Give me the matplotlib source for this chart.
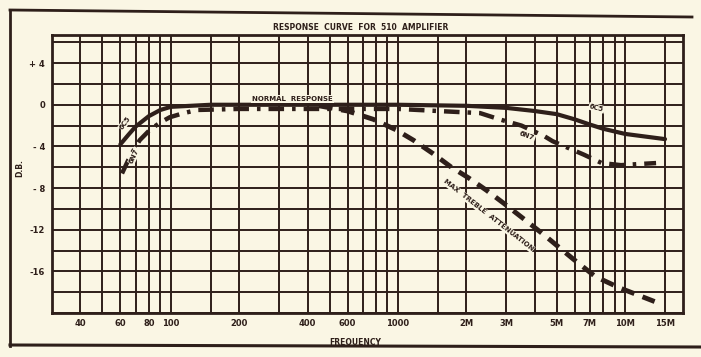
"""
Response curve for 510 amplifier (scanned vintage chart recreation).
"""
import numpy as np
import matplotlib.pyplot as plt
from matplotlib.lines import Line2D
from matplotlib.ticker import NullFormatter

PAPER = "#faf6e4"
INK = "#2e1f1a"

# curve data (frequency in Hz, level in dB)
c6c5_freq = [60, 65, 70, 80, 90, 100, 150, 200, 500, 1000, 2000, 3000, 4000, 5000, 6000, 7000, 8000, 10000, 15000]
c6c5_db = [-3.8, -2.9, -2.1, -1.1, -0.5, -0.2, 0.0, 0.0, 0.0, 0.0, -0.1, -0.3, -0.6, -0.9, -1.4, -1.9, -2.3, -2.8, -3.3]

c6n7_freq = [61, 66, 73, 81, 90, 99, 114, 131, 200, 500, 1000, 1500, 2300, 2800, 3500, 4400, 4800, 6600, 7900, 9600, 11400, 13700]
c6n7_db = [-6.6, -5.0, -3.4, -2.4, -1.7, -1.2, -0.8, -0.5, -0.4, -0.4, -0.4, -0.6, -0.8, -1.4, -2.0, -3.0, -3.5, -4.8, -5.6, -5.8, -5.7, -5.6]

treble_freq = [450, 600, 780, 980, 1170, 1430, 1720, 2040, 2450, 2940, 3700, 4400, 5900, 7400, 9500, 13500]
treble_db = [-0.1, -0.6, -1.4, -2.4, -3.4, -4.7, -6.0, -7.0, -8.2, -9.5, -11.2, -12.5, -14.8, -16.5, -17.6, -18.9]

x_ticks = [40, 60, 80, 100, 200, 400, 600, 1000, 2000, 3000, 5000, 7000, 10000, 15000]
x_labels = ["40", "60", "80", "100", "200", "400", "600", "1000", "2M", "3M", "5M", "7M", "10M", "15M"]
x_grid = [40, 50, 60, 70, 80, 90, 100, 150, 200, 300, 400, 500, 600, 700, 800, 900,
          1000, 1500, 2000, 3000, 4000, 5000, 6000, 7000, 8000, 9000, 10000, 15000]
y_ticks = [4, 0, -4, -8, -12, -16]
y_labels = ["+ 4", "0", "- 4", "- 8", "-12", "-16"]
y_grid = list(range(-20, 7, 2))

W, H = 701, 357
fig = plt.figure(figsize=(W / 100, H / 100), dpi=100, facecolor=PAPER)
ax = fig.add_axes([52 / W, 1 - 313 / H, (683 - 52) / W, (313 - 35) / H])
ax.set_facecolor(PAPER)
ax.set_xscale("log")
ax.set_xlim(30, 18000)
ax.set_ylim(-20, 6.7)

# grid lines at the printed positions, labels separately
for f in x_grid:
    ax.axvline(f, color=INK, linewidth=1.4, zorder=0)
for d in y_grid:
    ax.axhline(d, color=INK, linewidth=1.4, zorder=0)

ax.set_xticks(x_ticks)
ax.set_xticklabels(x_labels)
ax.xaxis.set_minor_formatter(NullFormatter())
ax.set_xticks([], minor=True)
ax.set_yticks(y_ticks)
ax.set_yticklabels(y_labels)
ax.tick_params(which="both", length=0)
ax.tick_params(axis="x", pad=4)
ax.tick_params(axis="y", pad=5)
for lab in ax.get_xticklabels() + ax.get_yticklabels():
    lab.set_fontsize(6)
    lab.set_fontweight("bold")
    lab.set_color(INK)
for s in ax.spines.values():
    s.set_color(INK)
    s.set_linewidth(2)

# curves
ax.plot(c6c5_freq, c6c5_db, color=INK, linewidth=3, solid_capstyle="round", zorder=3)
ax.plot(c6n7_freq, c6n7_db, color=INK, linewidth=3.2, dashes=(3.5, 1.8, 0.8, 1.8), zorder=3)
ax.plot(treble_freq, treble_db, color=INK, linewidth=3.5, dashes=(2.8, 1.8), zorder=3)

box = dict(facecolor=PAPER, edgecolor="none", pad=0.6)
kw = dict(fontsize=5, fontweight="bold", color=INK, ha="center", va="center", bbox=box, zorder=4)
ax.text(344, 0.55, "NORMAL  RESPONSE", **kw)
ax.text(63, -1.7, "6C5", rotation=55, **kw)
ax.text(69, -4.9, "6N7", rotation=65, **kw)
ax.text(7500, -0.3, "6C5", rotation=-15, **kw)
ax.text(3700, -3.0, "6N7", rotation=-20, **kw)
ax.text(2500, -10.6, "MAX  TREBLE  ATTENUATION", rotation=-38, **kw)

fig.text(361 / W, 1 - 28 / H, "RESPONSE  CURVE  FOR  510  AMPLIFIER",
         fontsize=5.5, fontweight="bold", color=INK, ha="center", va="center")
fig.text(355 / W, 1 - 343 / H, "FREQUENCY", fontsize=5.5, fontweight="bold",
         color=INK, ha="center", va="center")
fig.text(20 / W, 1 - 168 / H, "D.B.", fontsize=5.5, fontweight="bold",
         color=INK, ha="center", va="center", rotation=90)

# outer frame of the printed figure
fig.add_artist(Line2D([10 / W, 10 / W], [1 - 10 / H, 1 - 346 / H], color=INK, linewidth=2))
fig.add_artist(Line2D([10 / W, 692 / W], [1 - 10 / H, 1 - 17 / H], color=INK, linewidth=2))
fig.add_artist(Line2D([10 / W, 700 / W], [1 - 345 / H, 1 - 347 / H], color=INK, linewidth=2.2))

fig.savefig("out.png", dpi=100, facecolor=PAPER)
